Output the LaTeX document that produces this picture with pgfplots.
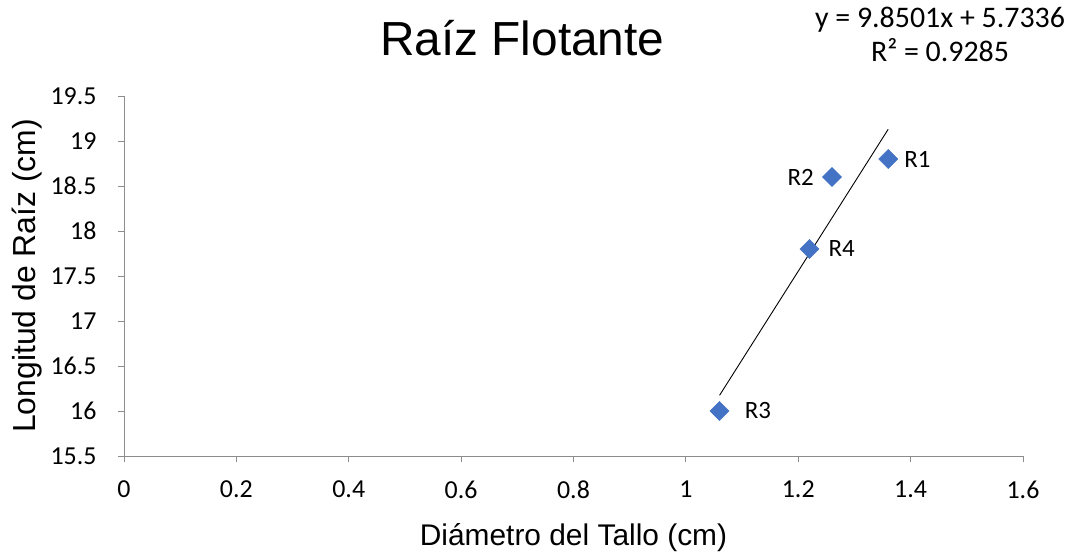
\documentclass[border=0pt]{standalone}
\usepackage{pgfplots}
\pgfplotsset{compat=1.18}
\usepackage{fontspec}
\setmainfont{Carlito}
\newfontfamily\arial{Liberation Sans}
\definecolor{mblue}{HTML}{4472C4}
\definecolor{axgray}{HTML}{8C8C8C}
\begin{document}
\begin{tikzpicture}
\useasboundingbox (-124bp,-96bp) rectangle (948bp,456bp);
\begin{axis}[
  at={(0,0)}, anchor=south west,
  scale only axis, width=899bp, height=360bp,
  xmin=0, xmax=1.6, ymin=15.5, ymax=19.5,
  xtick={0,0.2,...,1.6}, ytick={15.5,16,...,19.5},
  axis lines=left, axis line style={-, axgray, line width=0.8bp},
  tick align=outside, major tick length=6bp,
  tick style={axgray, line width=0.8bp},
  /pgf/number format/assume math mode=true,
  ticklabel style={font=\fontsize{26}{30}\selectfont, text=black},
  xticklabel style={yshift=-15bp},
  yticklabel style={xshift=-18bp},
  xlabel={Diámetro del Tallo (cm)},
  ylabel={Longitud de Raíz (cm)},
  xlabel style={font=\arial\fontsize{30}{34}\selectfont, at={(axis description cs:0.5,-0.228)}, anchor=center},
  ylabel style={font=\arial\fontsize{32}{36}\selectfont, at={(axis description cs:-0.108,0.5)}, anchor=center},
  clip=false,
  pt/.style={only marks, mark=square*, mark size=6.8bp,
    mark options={rotate=45, fill=mblue, draw=mblue},
    nodes near coords, point meta=explicit symbolic},
  lbl/.style 2 args={every node near coord/.append style={anchor=#1, xshift=#2, inner sep=0pt, font=\fontsize{25}{30}\selectfont, text=black}},
]
\addplot[pt, lbl={west}{16bp}] coordinates {(1.36,18.8) [R1]};
\addplot[pt, lbl={east}{-18bp}] coordinates {(1.26,18.6) [R2]};
\addplot[pt, lbl={west}{25bp}] coordinates {(1.06,16.0) [R3]};
\addplot[pt, lbl={west}{19bp}] coordinates {(1.22,17.8) [R4]};
\addplot[black, line width=0.9bp, no marks] coordinates {(1.06,16.1747) (1.36,19.1297)};
\node[font=\arial\fontsize{48}{56}\selectfont, anchor=center] at (axis description cs:0.443,1.161) {Raíz Flotante};
\node[font=\fontsize{30}{34}\selectfont, align=center, anchor=center] at (axis description cs:0.9077,1.172) {y = 9.8501x + 5.7336\\R² = 0.9285};
\end{axis}
\end{tikzpicture}
\end{document}
